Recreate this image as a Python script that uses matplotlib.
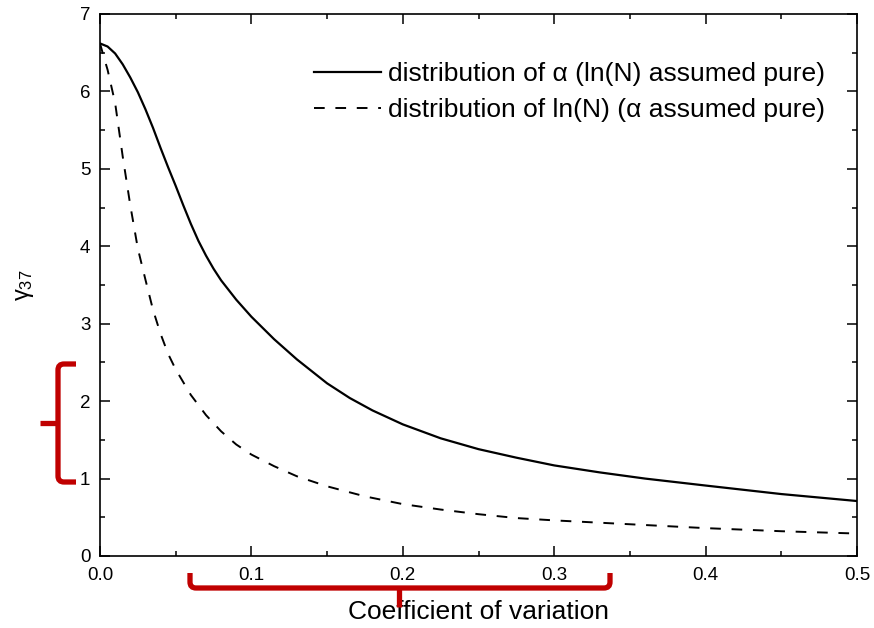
import matplotlib
matplotlib.use('Agg')
import matplotlib.pyplot as plt
from matplotlib.path import Path
from matplotlib.patches import PathPatch
from matplotlib.ticker import MultipleLocator

# coefficient of variation vs gamma_37
cv_alpha = [0.0, 0.005, 0.01, 0.015, 0.02, 0.025, 0.03, 0.035, 0.04, 0.045, 0.05,
            0.055, 0.06, 0.065, 0.07, 0.075, 0.08, 0.09, 0.1, 0.115, 0.13, 0.15,
            0.165, 0.18, 0.2, 0.225, 0.25, 0.275, 0.3, 0.33, 0.36, 0.4, 0.45, 0.5]
gamma_alpha = [6.62, 6.58, 6.49, 6.35, 6.18, 5.99, 5.77, 5.53, 5.27, 5.02, 4.78,
               4.53, 4.29, 4.07, 3.88, 3.71, 3.56, 3.31, 3.09, 2.80, 2.54, 2.23,
               2.04, 1.88, 1.70, 1.52, 1.38, 1.27, 1.17, 1.08, 1.00, 0.91, 0.80, 0.71]

cv_lnN = [0.0, 0.002, 0.005, 0.01, 0.015, 0.02, 0.025, 0.03, 0.035, 0.04, 0.045,
          0.05, 0.06, 0.07, 0.08, 0.09, 0.1, 0.115, 0.13, 0.15, 0.175, 0.2,
          0.225, 0.25, 0.275, 0.3, 0.33, 0.36, 0.4, 0.45, 0.5]
gamma_lnN = [6.62, 6.48, 6.28, 5.85, 5.16, 4.53, 3.97, 3.57, 3.18, 2.87, 2.61,
             2.41, 2.08, 1.82, 1.61, 1.44, 1.31, 1.16, 1.03, 0.90, 0.77, 0.67,
             0.60, 0.54, 0.49, 0.46, 0.43, 0.40, 0.36, 0.32, 0.29]

label_alpha = 'distribution of α (ln(N) assumed pure)'
label_lnN = 'distribution of ln(N) (α assumed pure)'

plt.rcParams['font.family'] = ['Liberation Sans', 'DejaVu Sans']
plt.rcParams['mathtext.fontset'] = 'custom'
plt.rcParams['mathtext.rm'] = 'Liberation Sans'
plt.rcParams['mathtext.it'] = 'Liberation Sans'

W, H = 874, 628
fig = plt.figure(figsize=(W / 100, H / 100), dpi=100)
ax = fig.add_axes([100 / W, 1 - 556 / H, 757 / W, 542 / H])

ax.plot(cv_alpha, gamma_alpha, color='black', lw=1.6, label=label_alpha)
ax.plot(cv_lnN, gamma_lnN, color='black', lw=1.4, linestyle=(0, (5.5, 5.5)),
        label=label_lnN)

ax.set_xlim(0, 0.5)
ax.set_ylim(0, 7)
ax.xaxis.set_major_locator(MultipleLocator(0.1))
ax.xaxis.set_minor_locator(MultipleLocator(0.05))
ax.yaxis.set_major_locator(MultipleLocator(1))
ax.yaxis.set_minor_locator(MultipleLocator(0.5))
ax.xaxis.set_major_formatter(plt.FormatStrFormatter('%.1f'))
ax.tick_params(which='both', direction='in', top=True, right=True, width=1.1)
ax.tick_params(which='major', length=7, labelsize=13.5)
ax.tick_params(axis='x', which='major', pad=8)
ax.tick_params(axis='y', which='major', pad=7)
ax.tick_params(which='minor', length=3.5)
for s in ax.spines.values():
    s.set_linewidth(1.2)

ax.set_xlabel('Coefficient of variation', fontsize=19)
ax.xaxis.label.set_va('center')
ax.xaxis.set_label_coords(0.5, -(612 - 556) / 542)
ax.set_ylabel(r'$\gamma_{37}$', fontsize=17)
ax.yaxis.label.set_va('center')
ax.yaxis.set_label_coords(-(100 - 25) / 757, 0.5)

ax.legend(loc='upper right', bbox_to_anchor=(0.989, 0.955), frameon=False,
          fontsize=19, handlelength=2.55, handletextpad=0.27, labelspacing=0.46)

# red braces drawn on top of the figure (pixel positions of the annotation)
def fig_xy(px, py):
    return (px / W, 1 - py / H)

red = '#c00000'
left_brace = [(76, 364), (64, 364), (58, 364), (58, 370), (58, 476), (58, 482), (64, 482), (76, 482)]
codes = [Path.MOVETO, Path.LINETO, Path.CURVE3, Path.CURVE3, Path.LINETO,
         Path.CURVE3, Path.CURVE3, Path.LINETO]
bottom_brace = [(190, 573), (190, 582), (190, 588), (196, 588), (604, 588), (610, 588), (610, 582), (610, 573)]
for pts in [left_brace, bottom_brace]:
    p = Path([fig_xy(*q) for q in pts], codes)
    fig.add_artist(PathPatch(p, facecolor='none', edgecolor=red, lw=3.8,
                             transform=fig.transFigure, capstyle='butt'))
for (a, b) in [((40, 423), (58, 423)), ((399, 588), (399, 607))]:
    x0, y0 = fig_xy(*a)
    x1, y1 = fig_xy(*b)
    fig.add_artist(plt.Line2D([x0, x1], [y0, y1], color=red, lw=3.8,
                              transform=fig.transFigure, solid_capstyle='butt'))

fig.savefig('out.png', dpi=100)
